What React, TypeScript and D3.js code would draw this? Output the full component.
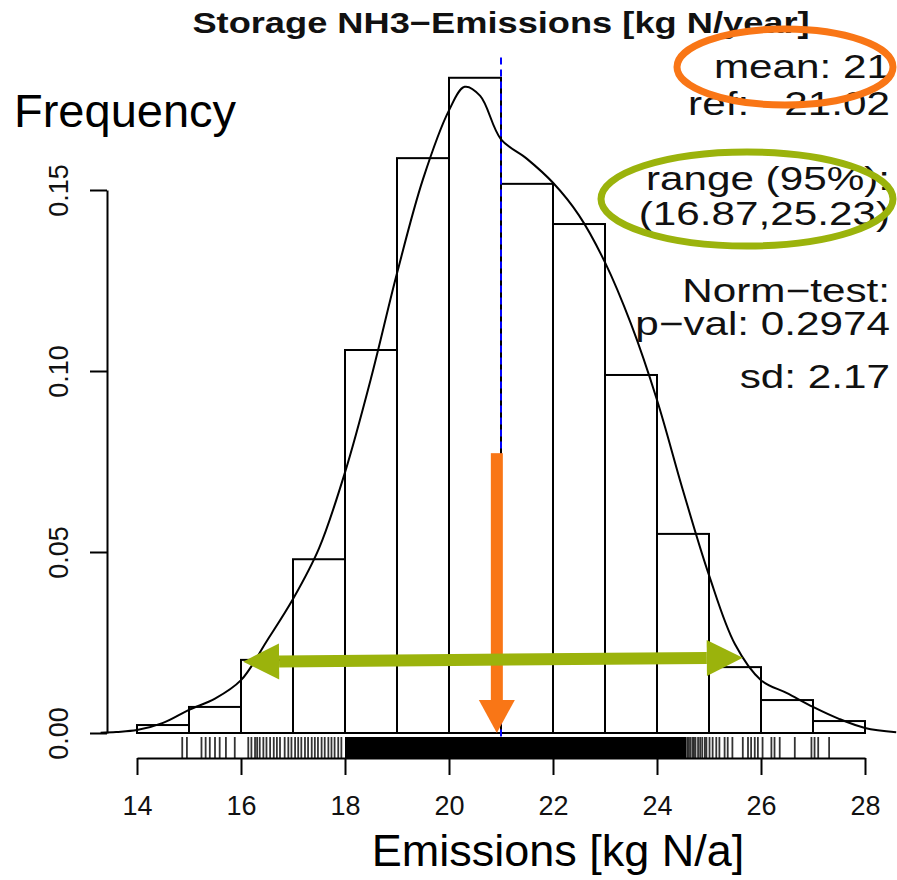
import React, { useEffect, useRef } from 'react';
import * as d3 from 'd3';

// histogram (density scale), bins of width 1
const binEdges = [14, 15, 16, 17, 18, 19, 20, 21, 22, 23, 24, 25, 26, 27, 28];
const binDensity = [0.0022, 0.0072, 0.0202, 0.048, 0.1058, 0.1588, 0.181, 0.1517, 0.1406, 0.0989, 0.055, 0.0182, 0.0091, 0.0033];

// kernel density curve
const densX = [13.3, 13.6, 14.0, 14.5, 15.0, 15.5, 16.0, 16.5, 17.0, 17.5, 18.0, 18.5, 19.0, 19.5, 20.0, 20.3, 20.6, 21.0, 21.5, 22.0, 22.5, 23.0, 23.5, 24.0, 24.5, 25.0, 25.5, 26.0, 26.5, 27.0, 27.5, 28.0, 28.6];
const densY = [0.0001, 0.0003, 0.0008, 0.0028, 0.0064, 0.0095, 0.0146, 0.0255, 0.037, 0.051, 0.072, 0.098, 0.127, 0.153, 0.172, 0.1785, 0.176, 0.164, 0.1586, 0.152, 0.143, 0.13, 0.113, 0.092, 0.067, 0.0436, 0.0245, 0.0146, 0.011, 0.0072, 0.0039, 0.0014, 0.0002];

// single observations under the axis (outer, sparse part)
const rugValues = [
  14.87, 14.96, 15.24, 15.32, 15.40, 15.50, 15.59, 15.71, 15.88,
  16.14, 16.20, 16.27, 16.31, 16.36, 16.43, 16.49, 16.56, 16.63, 16.69, 16.75, 16.84, 16.91, 16.97,
  17.04, 17.10, 17.16, 17.23, 17.29, 17.36, 17.42, 17.48, 17.55, 17.61, 17.68, 17.74, 17.80, 17.87, 17.93,
  24.58, 24.61, 24.64, 24.68, 24.71, 24.74, 24.79, 24.83, 24.87, 24.92,
  24.95, 25.01, 25.07, 25.14, 25.20, 25.30, 25.36, 25.45, 25.65, 25.75, 25.81, 25.88, 25.94,
  26.03, 26.20, 26.26, 26.36, 26.65, 26.97, 27.03, 27.10, 27.31,
];
// the middle part of the rug is fully black
const rugDense = [18.0, 24.56];

const xTicks = [14, 16, 18, 20, 22, 24, 26, 28];
const yTicks = [0, 0.05, 0.1, 0.15];

const refValue = 21.0;
const meanValue = 20.92;
const rangeArrow = [16.04, 25.65];
const rangeArrowY = [0.0197, 0.0208];

const statLines = ['mean: 21', 'ref:   21.02', 'range (95%):', '(16.87,25.23)', 'Norm\u2212test:', 'p\u2212val: 0.2974', 'sd: 2.17'];
const statBaselines = [78, 115, 190, 225, 302, 335, 388];

const FONT = '"Liberation Sans", Arial, Helvetica, sans-serif';
const ORANGE = '#F97616';
const GREEN = '#9BB30C';

const App = () => {
  const ref = useRef<SVGSVGElement | null>(null);

  useEffect(() => {
    const width = 897;
    const height = 880;
    const svg = d3.select(ref.current).attr('width', width).attr('height', height);
    svg.selectAll('*').remove();

    const x = d3.scaleLinear().domain([14, 28]).range([137, 865]);
    const y = d3.scaleLinear().domain([0, 0.15]).range([733, 190]);

    // histogram
    const bins = binDensity.map((d, i) => ({ x0: binEdges[i], x1: binEdges[i + 1], d }));
    svg.append('g')
      .selectAll('rect')
      .data(bins)
      .enter().append('rect')
      .attr('x', d => x(d.x0))
      .attr('width', d => x(d.x1) - x(d.x0))
      .attr('y', d => y(d.d))
      .attr('height', d => y(0) - y(d.d))
      .attr('fill', 'none')
      .attr('stroke', '#000')
      .attr('stroke-width', 2);

    // density curve
    const line = d3.line<number>()
      .x((d, i) => x(densX[i]))
      .y(d => y(d))
      .curve(d3.curveCatmullRom);
    svg.append('path')
      .attr('d', line(densY))
      .attr('fill', 'none')
      .attr('stroke', '#000')
      .attr('stroke-width', 2);

    // reference line
    svg.append('line')
      .attr('x1', x(refValue)).attr('x2', x(refValue))
      .attr('y1', y(0.1866)).attr('y2', y(-0.003))
      .attr('stroke', '#0000FF')
      .attr('stroke-width', 2)
      .attr('stroke-dasharray', '7,5');

    // rug
    const rug = svg.append('g');
    rug.append('rect')
      .attr('x', x(rugDense[0]))
      .attr('width', x(rugDense[1]) - x(rugDense[0]))
      .attr('y', 737)
      .attr('height', 21)
      .attr('fill', '#000');
    rug.selectAll('line')
      .data(rugValues)
      .enter().append('line')
      .attr('x1', d => x(d)).attr('x2', d => x(d))
      .attr('y1', 737).attr('y2', 758)
      .attr('stroke', '#000')
      .attr('stroke-opacity', 0.8)
      .attr('stroke-width', 1.8);

    // x axis
    const gx = svg.append('g')
      .attr('transform', 'translate(0,758)')
      .call(d3.axisBottom(x).tickValues(xTicks).tickSize(17).tickSizeOuter(0).tickPadding(21).tickFormat(d3.format('d')));
    gx.selectAll('path, line').attr('stroke', '#000').attr('stroke-width', 2);
    gx.selectAll('text').attr('font-family', FONT).attr('font-size', 27).attr('fill', '#111');

    // y axis
    const gy = svg.append('g')
      .attr('transform', 'translate(107,0)')
      .call(d3.axisLeft(y).tickValues(yTicks).tickSize(17).tickSizeOuter(0).tickFormat(d3.format('.2f')));
    gy.selectAll('path, line').attr('stroke', '#000').attr('stroke-width', 2);
    gy.selectAll('text')
      .attr('transform', 'rotate(-90)')
      .attr('x', 0).attr('y', -39).attr('dy', 0)
      .attr('text-anchor', 'middle')
      .attr('font-family', FONT).attr('font-size', 27).attr('fill', '#111');

    // title
    svg.append('text')
      .attr('transform', 'translate(501,33) scale(1.25,1)')
      .attr('text-anchor', 'middle')
      .attr('font-family', FONT).attr('font-weight', 'bold').attr('font-size', 29)
      .attr('fill', '#111')
      .text('Storage NH3\u2212Emissions [kg N/year]');

    // stats
    svg.append('g')
      .selectAll('text')
      .data(statLines)
      .enter().append('text')
      .attr('transform', (d, i) => `translate(890,${statBaselines[i]}) scale(1.28,1)`)
      .attr('text-anchor', 'end')
      .style('white-space', 'pre')
      .attr('font-family', FONT).attr('font-size', 33)
      .attr('fill', '#111')
      .text(d => d);

    // axis titles (added labels)
    svg.append('text')
      .attr('x', 14).attr('y', 127)
      .attr('font-family', FONT).attr('font-size', 47)
      .attr('fill', '#000')
      .text('Frequency');
    svg.append('text')
      .attr('x', 558).attr('y', 866)
      .attr('text-anchor', 'middle')
      .attr('font-family', FONT).attr('font-size', 45)
      .attr('fill', '#000')
      .text('Emissions [kg N/a]');

    // annotations
    svg.append('ellipse')
      .attr('cx', 785).attr('cy', 67).attr('rx', 108).attr('ry', 38)
      .attr('fill', 'none').attr('stroke', ORANGE).attr('stroke-width', 7);
    svg.append('ellipse')
      .attr('cx', 747).attr('cy', 199).attr('rx', 146).attr('ry', 47)
      .attr('fill', 'none').attr('stroke', GREEN).attr('stroke-width', 7);

    // orange arrow pointing at the mean
    const ax = x(meanValue);
    const tipY = y(0);
    svg.append('rect')
      .attr('x', ax - 6).attr('width', 12)
      .attr('y', y(0.0773)).attr('height', tipY - 33 - y(0.0773) + 1)
      .attr('fill', ORANGE);
    svg.append('path')
      .attr('d', `M${ax - 18},${tipY - 33}L${ax + 18},${tipY - 33}L${ax},${tipY}Z`)
      .attr('fill', ORANGE);

    // green double arrow over the 95% range
    const p0: [number, number] = [x(rangeArrow[0]), y(rangeArrowY[0])];
    const p1: [number, number] = [x(rangeArrow[1]), y(rangeArrowY[1])];
    const ang = Math.atan2(p1[1] - p0[1], p1[0] - p0[0]);
    const ux = Math.cos(ang), uy = Math.sin(ang);
    const nx = -uy, ny = ux;
    const headL = 36, headW = 18;
    const b0 = [p0[0] + ux * headL, p0[1] + uy * headL];
    const b1 = [p1[0] - ux * headL, p1[1] - uy * headL];
    svg.append('line')
      .attr('x1', b0[0]).attr('y1', b0[1]).attr('x2', b1[0]).attr('y2', b1[1])
      .attr('stroke', GREEN).attr('stroke-width', 12);
    svg.append('path')
      .attr('d', `M${p0[0]},${p0[1]}L${b0[0] + nx * headW},${b0[1] + ny * headW}L${b0[0] - nx * headW},${b0[1] - ny * headW}Z`)
      .attr('fill', GREEN);
    svg.append('path')
      .attr('d', `M${p1[0]},${p1[1]}L${b1[0] + nx * headW},${b1[1] + ny * headW}L${b1[0] - nx * headW},${b1[1] - ny * headW}Z`)
      .attr('fill', GREEN);
  }, []);

  return (
    <div style={{ position: 'absolute', left: 0, top: 0, width: 897, height: 880, background: '#fff' }}>
      <svg ref={ref} style={{ display: 'block' }}></svg>
    </div>
  );
};

export default App;
